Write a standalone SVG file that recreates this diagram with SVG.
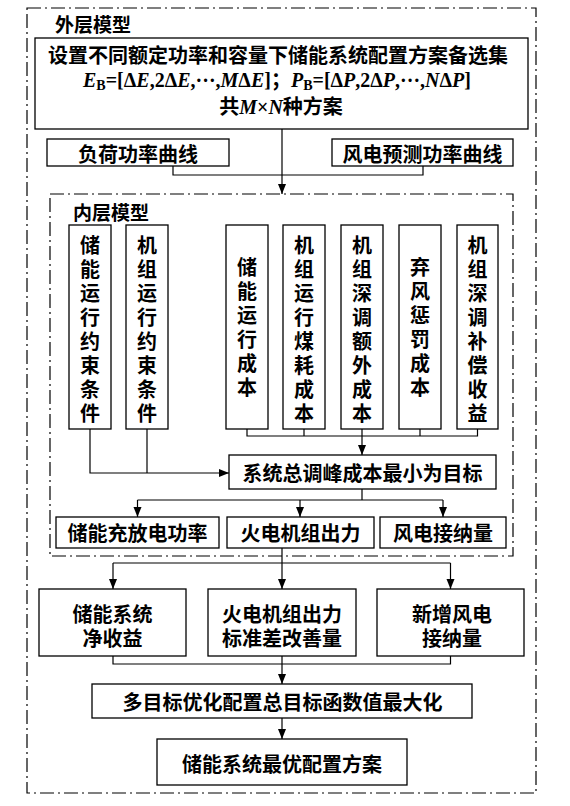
<svg xmlns="http://www.w3.org/2000/svg" width="570" height="806" viewBox="0 0 570 806">
<style>
.bg{fill:#fff}
.box{fill:#fff;stroke:#000;stroke-width:1.3}
.dd{fill:none;stroke:#000;stroke-width:1.2;stroke-dasharray:14 4 2 4}
.ln{fill:none;stroke:#000;stroke-width:1.2}
.t{font-family:"Noto Sans CJK SC","Noto Sans CJK JP",sans-serif;font-size:20px;font-weight:bold;fill:#000;text-anchor:middle;dominant-baseline:central}
.v{font-family:"Noto Sans CJK SC","Noto Sans CJK JP",sans-serif;font-size:20px;font-weight:bold;fill:#000;text-anchor:middle;writing-mode:vertical-rl;letter-spacing:4px}
.tl{font-family:"Noto Sans CJK SC","Noto Sans CJK JP",sans-serif;font-size:19px;font-weight:bold;fill:#000;dominant-baseline:central}
.m{font-family:"Liberation Serif","Noto Sans CJK SC",serif;font-size:20px;font-weight:bold;fill:#000;text-anchor:middle;dominant-baseline:central}
.i{font-style:italic}
</style>
<defs>
<marker id="ah" viewBox="0 0 10 10" refX="10" refY="5" markerWidth="10" markerHeight="10" markerUnits="userSpaceOnUse" orient="auto">
<path d="M0,1 L10,5 L0,9 Z" fill="#000"/>
</marker>
</defs>
<rect class="bg" x="0" y="0" width="570" height="806"/>

<g id="outer-frame">
<rect class="dd" x="27" y="8" width="509" height="785"/>
<text class="tl" x="55" y="23">外层模型</text>
</g>

<g id="inner-frame">
<rect class="dd" x="50" y="194" width="463" height="362"/>
<text class="tl" x="73" y="211">内层模型</text>
</g>

<g id="connectors">
<path class="ln" d="M282,129 V194" marker-end="url(#ah)"/>
<path class="ln" d="M173,166 V175 H423 V166"/>
<path class="ln" d="M90,429 V473 H229" marker-end="url(#ah)"/>
<path class="ln" d="M147,429 V473"/>
<path class="ln" d="M247,429 V436 H477.5 V429"/>
<path class="ln" d="M304,429 V436 M362,429 V436 M420,429 V436"/>
<path class="ln" d="M362,436 V455" marker-end="url(#ah)"/>
<path class="ln" d="M362,489 V500 M137.5,500 H443"/>
<path class="ln" d="M137.5,500 V517" marker-end="url(#ah)"/>
<path class="ln" d="M300,500 V517" marker-end="url(#ah)"/>
<path class="ln" d="M443,500 V517" marker-end="url(#ah)"/>
<path class="ln" d="M282,548 V563 M113,563 H450.5"/>
<path class="ln" d="M113,563 V589" marker-end="url(#ah)"/>
<path class="ln" d="M282,563 V589" marker-end="url(#ah)"/>
<path class="ln" d="M450.5,563 V589" marker-end="url(#ah)"/>
<path class="ln" d="M113,656 V664 H450.5 V656"/>
<path class="ln" d="M282,656 V684" marker-end="url(#ah)"/>
<path class="ln" d="M282,718 V739" marker-end="url(#ah)"/>
</g>

<g id="n-candidates">
<rect class="box" x="35" y="38" width="493" height="91"/>
<text class="t" x="278" y="54">设置不同额定功率和容量下储能系统配置方案备选集</text>
<text class="m" x="277" y="80"><tspan class="i">E</tspan><tspan font-size="14" dy="5">B</tspan><tspan dy="-5">=[Δ</tspan><tspan class="i">E</tspan>,2Δ<tspan class="i">E</tspan>,···,<tspan class="i">M</tspan>Δ<tspan class="i">E</tspan>]；<tspan class="i">P</tspan><tspan font-size="14" dy="5">B</tspan><tspan dy="-5">=[Δ</tspan><tspan class="i">P</tspan>,2Δ<tspan class="i">P</tspan>,···,<tspan class="i">N</tspan>Δ<tspan class="i">P</tspan>]</text>
<text class="m" x="281" y="107">共<tspan class="i">M</tspan>×<tspan class="i">N</tspan>种方案</text>
</g>

<g id="n-load">
<rect class="box" x="47" y="139" width="182" height="27"/>
<text class="t" x="138" y="153">负荷功率曲线</text>
</g>
<g id="n-wind">
<rect class="box" x="332" y="139" width="181" height="27"/>
<text class="t" x="422.5" y="153">风电预测功率曲线</text>
</g>

<g id="n-c1">
<rect class="box" x="69" y="225" width="42" height="204"/>
<text class="v" x="90" y="331">储能运行约束条件</text>
</g>
<g id="n-c2">
<rect class="box" x="126" y="225" width="42" height="204"/>
<text class="v" x="147" y="331">机组运行约束条件</text>
</g>
<g id="n-c3">
<rect class="box" x="226" y="225" width="42" height="204"/>
<text class="v" x="247" y="329.5">储能运行成本</text>
</g>
<g id="n-c4">
<rect class="box" x="283" y="225" width="42" height="204"/>
<text class="v" x="304" y="331">机组运行煤耗成本</text>
</g>
<g id="n-c5">
<rect class="box" x="341" y="225" width="42" height="204"/>
<text class="v" x="362" y="331">机组深调额外成本</text>
</g>
<g id="n-c6">
<rect class="box" x="399" y="225" width="42" height="204"/>
<text class="v" x="420" y="329.5">弃风惩罚成本</text>
</g>
<g id="n-c7">
<rect class="box" x="457" y="225" width="41" height="204"/>
<text class="v" x="477.5" y="331">机组深调补偿收益</text>
</g>

<g id="n-objective">
<rect class="box" x="229" y="455" width="267" height="34"/>
<text class="t" x="362.5" y="472">系统总调峰成本最小为目标</text>
</g>

<g id="n-storage-power">
<rect class="box" x="56" y="517" width="163" height="31"/>
<text class="t" x="137.5" y="532.5">储能充放电功率</text>
</g>
<g id="n-thermal-output">
<rect class="box" x="227" y="517" width="147" height="31"/>
<text class="t" x="300.5" y="532.5">火电机组出力</text>
</g>
<g id="n-wind-accept">
<rect class="box" x="380" y="517" width="126" height="31"/>
<text class="t" x="443" y="532.5">风电接纳量</text>
</g>

<g id="n-net-revenue">
<rect class="box" x="39" y="589" width="147" height="67"/>
<text class="t" x="112.5" y="613">储能系统</text>
<text class="t" x="112.5" y="637">净收益</text>
</g>
<g id="n-std-improve">
<rect class="box" x="208" y="589" width="148" height="67"/>
<text class="t" x="282" y="613">火电机组出力</text>
<text class="t" x="282" y="637">标准差改善量</text>
</g>
<g id="n-new-wind">
<rect class="box" x="377" y="589" width="147" height="67"/>
<text class="t" x="452" y="613">新增风电</text>
<text class="t" x="452" y="637">接纳量</text>
</g>

<g id="n-multi">
<rect class="box" x="92" y="684" width="380" height="34"/>
<text class="t" x="282.5" y="701.5">多目标优化配置总目标函数值最大化</text>
</g>
<g id="n-final">
<rect class="box" x="157" y="739" width="250" height="46"/>
<text class="t" x="282" y="763">储能系统最优配置方案</text>
</g>
</svg>
